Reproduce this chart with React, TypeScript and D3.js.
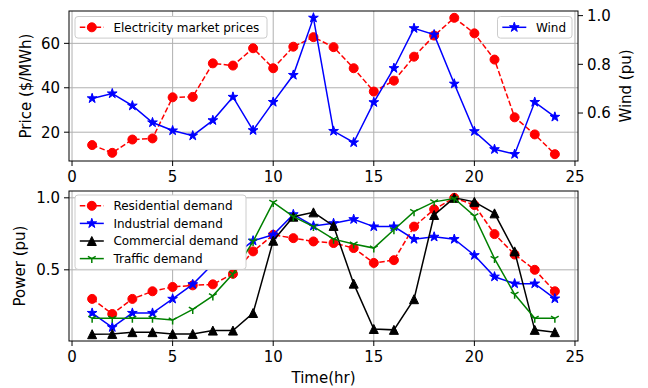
import React from "react";
import * as d3 from "d3";

const hours = [1, 2, 3, 4, 5, 6, 7, 8, 9, 10, 11, 12, 13, 14, 15, 16, 17, 18, 19, 20, 21, 22, 23, 24];
const price = [14.2, 10.7, 16.7, 17.2, 35.7, 35.9, 51, 50, 57.8, 48.8, 58.5, 62.8, 58.3, 48.8, 38.3, 43.2, 54, 63.5, 71.5, 64.5, 52.7, 26.7, 19, 10.1];
const wind = [0.66, 0.68, 0.63, 0.561, 0.528, 0.507, 0.57, 0.666, 0.529, 0.645, 0.756, 0.991, 0.526, 0.479, 0.644, 0.784, 0.948, 0.922, 0.72, 0.525, 0.451, 0.431, 0.645, 0.584];
const residential = [0.298, 0.193, 0.298, 0.351, 0.381, 0.392, 0.399, 0.472, 0.628, 0.743, 0.72, 0.697, 0.686, 0.651, 0.548, 0.567, 0.8, 0.92, 1.0, 0.95, 0.748, 0.606, 0.5, 0.351];
const industrial = [0.2, 0.101, 0.2, 0.2, 0.298, 0.399, 0.54, 0.59, 0.702, 0.743, 0.885, 0.805, 0.823, 0.851, 0.8, 0.8, 0.713, 0.729, 0.713, 0.601, 0.452, 0.404, 0.404, 0.3];
const commercial = [0.053, 0.055, 0.067, 0.067, 0.055, 0.055, 0.078, 0.078, 0.2, 0.702, 0.869, 0.899, 0.805, 0.404, 0.089, 0.083, 0.296, 0.881, 1.0, 0.972, 0.892, 0.628, 0.083, 0.067];
const traffic = [0.163, 0.163, 0.163, 0.163, 0.151, 0.225, 0.319, 0.472, 0.697, 0.968, 0.869, 0.8, 0.713, 0.679, 0.651, 0.778, 0.904, 0.972, 0.995, 0.874, 0.578, 0.33, 0.163, 0.163];

const xTicks = [0, 5, 10, 15, 20, 25];
const priceTicks = [20, 40, 60];
const windTicks = [0.6, 0.8, 1.0];
const powerTicks = [0.5, 1.0];

const FONT = "DejaVu Sans, Liberation Sans, sans-serif";
const W = 648, H = 388;
const L = 69, R = 578;
const T1 = 11, B1 = 161;
const T2 = 191, B2 = 341;
const TICK_FS = 15;
const LEG_FS = 12;
const GRID = "#b0b0b0";

function padded(vals: number[]): [number, number] {
  const [lo, hi] = d3.extent(vals) as [number, number];
  const m = (hi - lo) * 0.05;
  return [lo - m, hi + m];
}

const x = d3.scaleLinear().domain(padded(hours)).range([L, R]);
const yPrice = d3.scaleLinear().domain(padded(price)).range([B1, T1]);
const yWind = d3.scaleLinear().domain(padded(wind)).range([B1, T1]);
const yPower = d3.scaleLinear()
  .domain(padded([...residential, ...industrial, ...commercial, ...traffic]))
  .range([B2, T2]);

type MarkerKind = "circle" | "star" | "triangle" | "tri_down";

function Marker({ kind, cx, cy, color }: { kind: MarkerKind; cx: number; cy: number; color: string }) {
  const ms = 9;
  if (kind === "circle") {
    return <circle cx={cx} cy={cy} r={ms / 2} fill={color} stroke={color} strokeWidth={1} />;
  }
  if (kind === "star") {
    const r = ms / 2 + 0.6;
    const area = (r * r) / 0.8908130915292852;
    const p = d3.symbol().type(d3.symbolStar).size(area)();
    return <path d={p || ""} transform={`translate(${cx},${cy})`} fill={color} stroke={color} strokeWidth={1} strokeLinejoin="miter" />;
  }
  if (kind === "triangle") {
    const h = ms / 2;
    const d = `M${cx},${cy - h}L${cx - h},${cy + h}L${cx + h},${cy + h}Z`;
    return <path d={d} fill={color} stroke={color} strokeWidth={1} strokeLinejoin="miter" />;
  }
  const r = ms / 2;
  const d = `M${cx},${cy}L${cx},${cy + r}M${cx},${cy}L${cx - r * 0.866},${cy - r * 0.5}M${cx},${cy}L${cx + r * 0.866},${cy - r * 0.5}`;
  return <path d={d} fill="none" stroke={color} strokeWidth={1.5} />;
}

function Series({ xs, ys, yScale, color, dash, marker }: {
  xs: number[]; ys: number[]; yScale: d3.ScaleLinear<number, number>; color: string; dash?: string; marker: MarkerKind;
}) {
  const pts: [number, number][] = xs.map((h, i) => [x(h), yScale(ys[i])]);
  const line = d3.line()(pts) || "";
  return (
    <g>
      <path d={line} fill="none" stroke={color} strokeWidth={1.5} strokeDasharray={dash} />
      {pts.map(([px, py], i) => (
        <Marker key={i} kind={marker} cx={px} cy={py} color={color} />
      ))}
    </g>
  );
}

type LegendItem = { label: string; color: string; dash?: string; marker: MarkerKind };

function Legend({ x0, y0, w, items }: { x0: number; y0: number; w: number; items: LegendItem[] }) {
  const pitch = 17.6;
  const h = 21.6 + (items.length - 1) * pitch;
  return (
    <g>
      <rect x={x0} y={y0} width={w} height={h} rx={3} ry={3} fill="white" stroke="#cccccc" strokeWidth={1} />
      {items.map((it, i) => {
        const cy = y0 + 10.8 + i * pitch;
        const hx0 = x0 + 4.8;
        const hx1 = hx0 + 24;
        return (
          <g key={i}>
            <line x1={hx0} x2={hx1} y1={cy} y2={cy} stroke={it.color} strokeWidth={1.5} strokeDasharray={it.dash} />
            <Marker kind={it.marker} cx={(hx0 + hx1) / 2} cy={cy} color={it.color} />
            <text x={hx1 + 9.6} y={cy} dy="0.36em" fontSize={LEG_FS} fontFamily={FONT} fill="#000">{it.label}</text>
          </g>
        );
      })}
    </g>
  );
}

function XAxis({ bottom }: { bottom: number }) {
  return (
    <g>
      {xTicks.map((t) => (
        <g key={t}>
          <line x1={x(t)} x2={x(t)} y1={bottom} y2={bottom + 5} stroke="#000" strokeWidth={1} />
          <text x={x(t)} y={bottom + 21} textAnchor="middle" fontSize={TICK_FS} fontFamily={FONT} fill="#000">{t}</text>
        </g>
      ))}
    </g>
  );
}

function Grid({ top, bottom, yScale, yTicks }: { top: number; bottom: number; yScale: d3.ScaleLinear<number, number>; yTicks: number[] }) {
  return (
    <g>
      {xTicks.map((t) => (
        <line key={"gx" + t} x1={x(t)} x2={x(t)} y1={top} y2={bottom} stroke={GRID} strokeWidth={1} />
      ))}
      {yTicks.map((t) => (
        <line key={"gy" + t} x1={L} x2={R} y1={yScale(t)} y2={yScale(t)} stroke={GRID} strokeWidth={1} />
      ))}
    </g>
  );
}

function YAxisLeft({ yScale, ticks, fmt }: { yScale: d3.ScaleLinear<number, number>; ticks: number[]; fmt: (v: number) => string }) {
  return (
    <g>
      {ticks.map((t) => (
        <g key={t}>
          <line x1={L - 5} x2={L} y1={yScale(t)} y2={yScale(t)} stroke="#000" strokeWidth={1} />
          <text x={L - 9} y={yScale(t)} dy="0.36em" textAnchor="end" fontSize={TICK_FS} fontFamily={FONT} fill="#000">{fmt(t)}</text>
        </g>
      ))}
    </g>
  );
}

function YAxisRight({ yScale, ticks, fmt }: { yScale: d3.ScaleLinear<number, number>; ticks: number[]; fmt: (v: number) => string }) {
  return (
    <g>
      {ticks.map((t) => (
        <g key={t}>
          <line x1={R} x2={R + 5} y1={yScale(t)} y2={yScale(t)} stroke="#000" strokeWidth={1} />
          <text x={R + 9} y={yScale(t)} dy="0.36em" textAnchor="start" fontSize={TICK_FS} fontFamily={FONT} fill="#000">{fmt(t)}</text>
        </g>
      ))}
    </g>
  );
}

export default function App() {
  const f1 = d3.format(".1f");
  const f0 = d3.format("d");
  const midY1 = (T1 + B1) / 2;
  const midY2 = (T2 + B2) / 2;
  return (
    <svg width={W} height={H} style={{ position: "absolute", left: 0, top: 0, background: "white" }}>
      <defs>
        <clipPath id="clipTop"><rect x={L} y={T1} width={R - L} height={B1 - T1} /></clipPath>
        <clipPath id="clipBot"><rect x={L} y={T2} width={R - L} height={B2 - T2} /></clipPath>
      </defs>
      <rect x={0} y={0} width={W} height={H} fill="white" />

      {/* Top panel */}
      <Grid top={T1} bottom={B1} yScale={yPrice} yTicks={priceTicks} />
      <g clipPath="url(#clipTop)">
        <Series xs={hours} ys={price} yScale={yPrice} color="#ff0000" dash="5.5,2.4" marker="circle" />
      </g>
      <Legend x0={75} y0={16.5} w={192} items={[{ label: "Electricity market prices", color: "#ff0000", dash: "5.5,2.4", marker: "circle" }]} />
      <g clipPath="url(#clipTop)">
        <Series xs={hours} ys={wind} yScale={yWind} color="#0000ff" marker="star" />
      </g>
      <Legend x0={497.5} y0={16.5} w={74.5} items={[{ label: "Wind", color: "#0000ff", marker: "star" }]} />
      <rect x={L} y={T1} width={R - L} height={B1 - T1} fill="none" stroke="#000" strokeWidth={1} />
      <XAxis bottom={B1} />
      <YAxisLeft yScale={yPrice} ticks={priceTicks} fmt={f0} />
      <YAxisRight yScale={yWind} ticks={windTicks} fmt={f1} />
      <text transform={`translate(26,${midY1}) rotate(-90)`} textAnchor="middle" dy="0.36em" fontSize={TICK_FS} fontFamily={FONT}>Price ($/MWh)</text>
      <text transform={`translate(626,${midY1}) rotate(-90)`} textAnchor="middle" dy="0.36em" fontSize={TICK_FS} fontFamily={FONT}>Wind (pu)</text>

      {/* Bottom panel */}
      <Grid top={T2} bottom={B2} yScale={yPower} yTicks={powerTicks} />
      <g clipPath="url(#clipBot)">
        <Series xs={hours} ys={residential} yScale={yPower} color="#ff0000" dash="5.5,2.4" marker="circle" />
        <Series xs={hours} ys={industrial} yScale={yPower} color="#0000ff" marker="star" />
        <Series xs={hours} ys={commercial} yScale={yPower} color="#000000" marker="triangle" />
        <Series xs={hours} ys={traffic} yScale={yPower} color="#008000" marker="tri_down" />
      </g>
      <Legend x0={75} y0={195} w={171} items={[
        { label: "Residential demand", color: "#ff0000", dash: "5.5,2.4", marker: "circle" },
        { label: "Industrial demand", color: "#0000ff", marker: "star" },
        { label: "Commercial demand", color: "#000000", marker: "triangle" },
        { label: "Traffic demand", color: "#008000", marker: "tri_down" },
      ]} />
      <rect x={L} y={T2} width={R - L} height={B2 - T2} fill="none" stroke="#000" strokeWidth={1} />
      <XAxis bottom={B2} />
      <YAxisLeft yScale={yPower} ticks={powerTicks} fmt={f1} />
      <text transform={`translate(20,${midY2}) rotate(-90)`} textAnchor="middle" dy="0.36em" fontSize={TICK_FS} fontFamily={FONT}>Power (pu)</text>
      <text x={(L + R) / 2} y={383} textAnchor="middle" fontSize={TICK_FS} fontFamily={FONT}>Time(hr)</text>
    </svg>
  );
}
